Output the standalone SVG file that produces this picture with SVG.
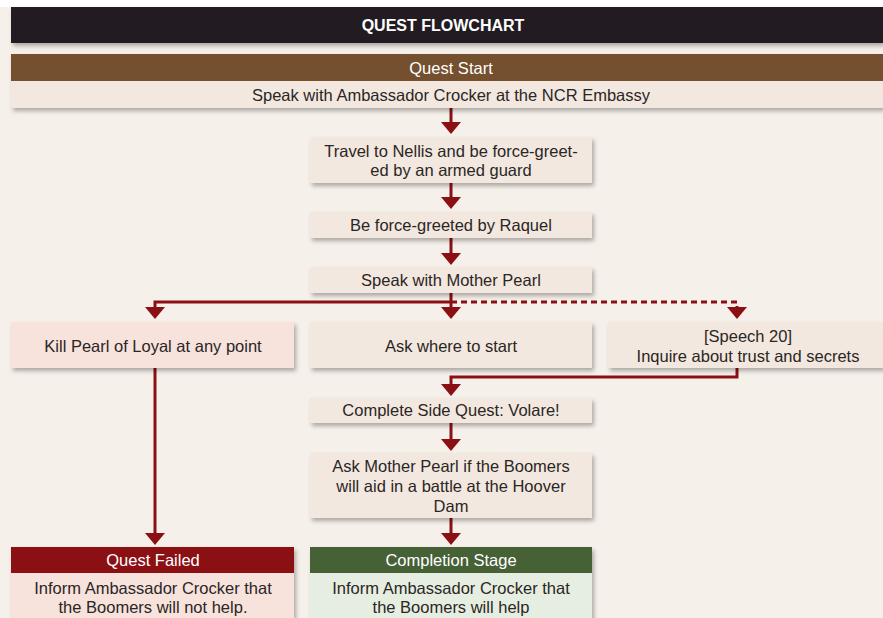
<svg xmlns="http://www.w3.org/2000/svg" width="883" height="618" viewBox="0 0 883 618">
<defs>
<filter id="sh" x="-5%" y="-20%" width="115%" height="160%">
<feDropShadow dx="2" dy="3" stdDeviation="2" flood-color="#000" flood-opacity="0.3"/>
</filter>
<marker id="ah" viewBox="0 0 12 20" refX="1" refY="10" markerWidth="12" markerHeight="20" markerUnits="userSpaceOnUse" orient="auto">
<path d="M0,0 L12,10 L0,20 Z" fill="#8b1014"/>
</marker>
</defs>
<style>
text{font-family:"Liberation Sans","Arial",sans-serif;font-size:16.5px;fill:#2a2625;text-anchor:middle;}
.hd{fill:#fff;}
.title{font-weight:bold;fill:#fff;font-size:16px;}
.cr{fill:#f3e8df;}
.pk{fill:#f7e2dc;}
.ln{fill:none;stroke:#8b1014;stroke-width:3;}
.dl{stroke-dasharray:6,4;}
</style>
<rect x="0" y="0" width="883" height="618" fill="#f6f0ea"/>
<rect x="0" y="0" width="883" height="7" fill="#ffffff"/>
<g id="header">
<rect x="11" y="7" width="872" height="36" fill="#221f20" filter="url(#sh)"/>
<text class="title" x="443" y="31">QUEST FLOWCHART</text>
</g>
<g id="connectors">
<path class="ln" d="M451,108 V123" marker-end="url(#ah)"/>
<path class="ln" d="M451,183 V198" marker-end="url(#ah)"/>
<path class="ln" d="M451,238 V254" marker-end="url(#ah)"/>
<path class="ln" d="M451,293 V308" marker-end="url(#ah)"/>
<path class="ln" d="M451,302 H155 V308" marker-end="url(#ah)"/>
<path class="ln dl" d="M451,302 H737 V308" marker-end="url(#ah)"/>
<path class="ln" d="M737,368 V377 H451 V385" marker-end="url(#ah)"/>
<path class="ln" d="M451,423 V440" marker-end="url(#ah)"/>
<path class="ln" d="M451,518 V534" marker-end="url(#ah)"/>
<path class="ln" d="M155,368 V534" marker-end="url(#ah)"/>
</g>
<g id="quest-start">
<rect x="11" y="54" width="872" height="54" fill="#f3e8df" filter="url(#sh)"/>
<rect x="11" y="54" width="872" height="27" fill="#74502f"/>
<text class="hd" x="451" y="74">Quest Start</text>
<text x="451" y="101">Speak with Ambassador Crocker at the NCR Embassy</text>
</g>
<g id="travel">
<rect class="cr" x="310" y="137" width="282" height="46" filter="url(#sh)"/>
<text x="451" y="157">Travel to Nellis and be force-greet-</text>
<text x="451" y="176">ed by an armed guard</text>
</g>
<g id="raquel">
<rect class="cr" x="310" y="212" width="282" height="26" filter="url(#sh)"/>
<text x="451" y="231">Be force-greeted by Raquel</text>
</g>
<g id="mother-pearl">
<rect class="cr" x="310" y="267" width="282" height="26" filter="url(#sh)"/>
<text x="451" y="286">Speak with Mother Pearl</text>
</g>
<g id="kill-pearl">
<rect class="pk" x="11" y="322" width="283" height="46" filter="url(#sh)"/>
<text x="153" y="352">Kill Pearl of Loyal at any point</text>
</g>
<g id="ask-start">
<rect class="cr" x="310" y="322" width="282" height="46" filter="url(#sh)"/>
<text x="451" y="352">Ask where to start</text>
</g>
<g id="speech">
<rect class="cr" x="608" y="322" width="275" height="46" filter="url(#sh)"/>
<text x="748" y="342">[Speech 20]</text>
<text x="748" y="362">Inquire about trust and secrets</text>
</g>
<g id="volare">
<rect class="cr" x="310" y="398" width="282" height="25" filter="url(#sh)"/>
<text x="451" y="416">Complete Side Quest: Volare!</text>
</g>
<g id="ask-boomers">
<rect class="cr" x="310" y="453" width="282" height="65" filter="url(#sh)"/>
<text x="451" y="472">Ask Mother Pearl if the Boomers</text>
<text x="451" y="492">will aid in a battle at the Hoover</text>
<text x="451" y="512">Dam</text>
</g>
<g id="quest-failed">
<rect x="11" y="547" width="283" height="80" fill="#f7e2dc" filter="url(#sh)"/>
<rect x="11" y="547" width="283" height="26" fill="#8b1014"/>
<text class="hd" x="153" y="566">Quest Failed</text>
<text x="153" y="594">Inform Ambassador Crocker that</text>
<text x="153" y="613">the Boomers will not help.</text>
</g>
<g id="completion">
<rect x="310" y="547" width="282" height="80" fill="#e6eee2" filter="url(#sh)"/>
<rect x="310" y="547" width="282" height="26" fill="#476137"/>
<text class="hd" x="451" y="566">Completion Stage</text>
<text x="451" y="594">Inform Ambassador Crocker that</text>
<text x="451" y="613">the Boomers will help</text>
</g>
</svg>
